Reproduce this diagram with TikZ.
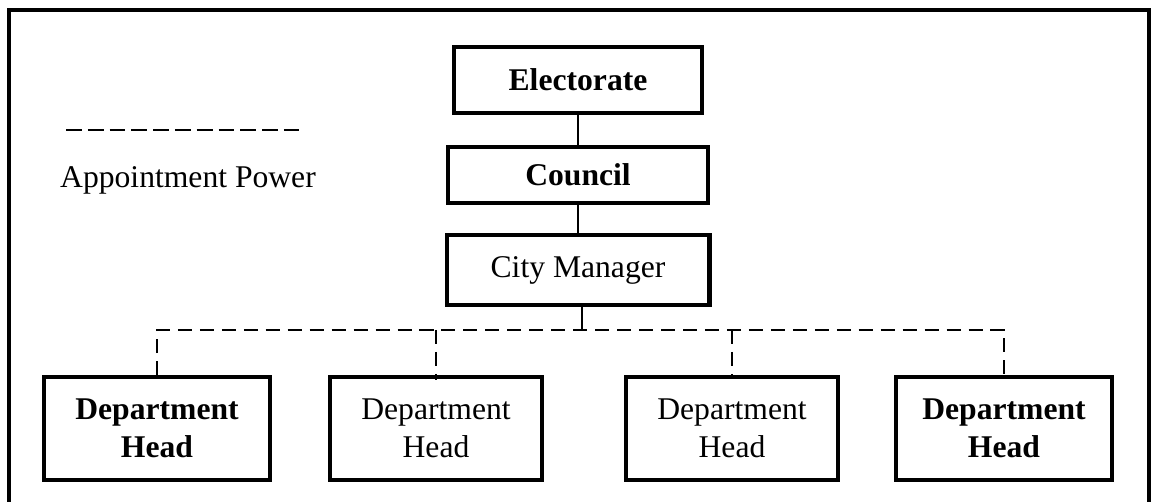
\documentclass[tikz,border=0pt]{standalone}
\usepackage{fontspec}
\setmainfont{Liberation Serif}
\usepackage{tikz}
\usetikzlibrary{positioning}
\tikzstyle{office} = [rectangle, draw=black, line width=2.3pt, text centered, align=center, font=\fontsize{18}{21.6}\selectfont]
\tikzstyle{elected} = [office, font=\fontsize{18}{21.6}\selectfont\bfseries]
\tikzstyle{dept} = [office, minimum width=4.24cm, minimum height=2.06cm]
\tikzstyle{deptb} = [elected, minimum width=4.4cm, minimum height=2.06cm]
\tikzstyle{solidline} = [black, line width=1.1pt]
\tikzstyle{appoint} = [black, line width=1.1pt, dash pattern=on 8pt off 4.5pt]

\begin{document}
\begin{tikzpicture}[x=0.02cm, y=-0.02cm]
	\useasboundingbox (0,0) rectangle (1153,502);
	% frame, open at the bottom
	\draw [line width=2.3pt] (9,510) -- (9,10) -- (1149,10) -- (1149,510);

	\node (electorate) at (578,80) [elected, minimum width=4.96cm, minimum height=1.32cm] {Electorate};
	\node (council) at (578,175) [elected, minimum width=5.2cm, minimum height=1.12cm] {Council};
	\draw [solidline] (electorate.south) -- (council.north);

	\node (manager) at (578,270) [office, minimum width=5.26cm, minimum height=1.4cm] {City Manager};
	\draw [solidline] (council.south) -- (manager.north);

	\node (dept1) at (157,428.5) [deptb, minimum width=4.52cm] {Department\\Head};
	\node (dept2) at (436,428.5) [dept] {Department\\Head};
	\node (dept3) at (732,428.5) [dept] {Department\\Head};
	\node (dept4) at (1004,428.5) [deptb, minimum width=4.32cm] {Department\\Head};

	\coordinate (bus) at (582,330);
	\draw [solidline] (manager.south -| bus) -- (bus);
	\draw [appoint] (dept1.north) -- (dept1.north |- bus) -- (dept4.north |- bus) -- (dept4.north);
	\draw [appoint, shorten >=-0.1cm] (dept2.north |- bus) -- (dept2.north);
	\draw [appoint] (dept3.north |- bus) -- (dept3.north);

	% legend
	\coordinate (key_start) at (66,130);
	\coordinate (key_end) at (299,130);
	\draw [black, line width=1.6pt, dash pattern=on 9pt off 3.4pt] (key_start) -- (key_end);
	\node (key_text) at (188,180) [font=\fontsize{18}{21.6}\selectfont] {Appointment Power};
\end{tikzpicture}
\end{document}
